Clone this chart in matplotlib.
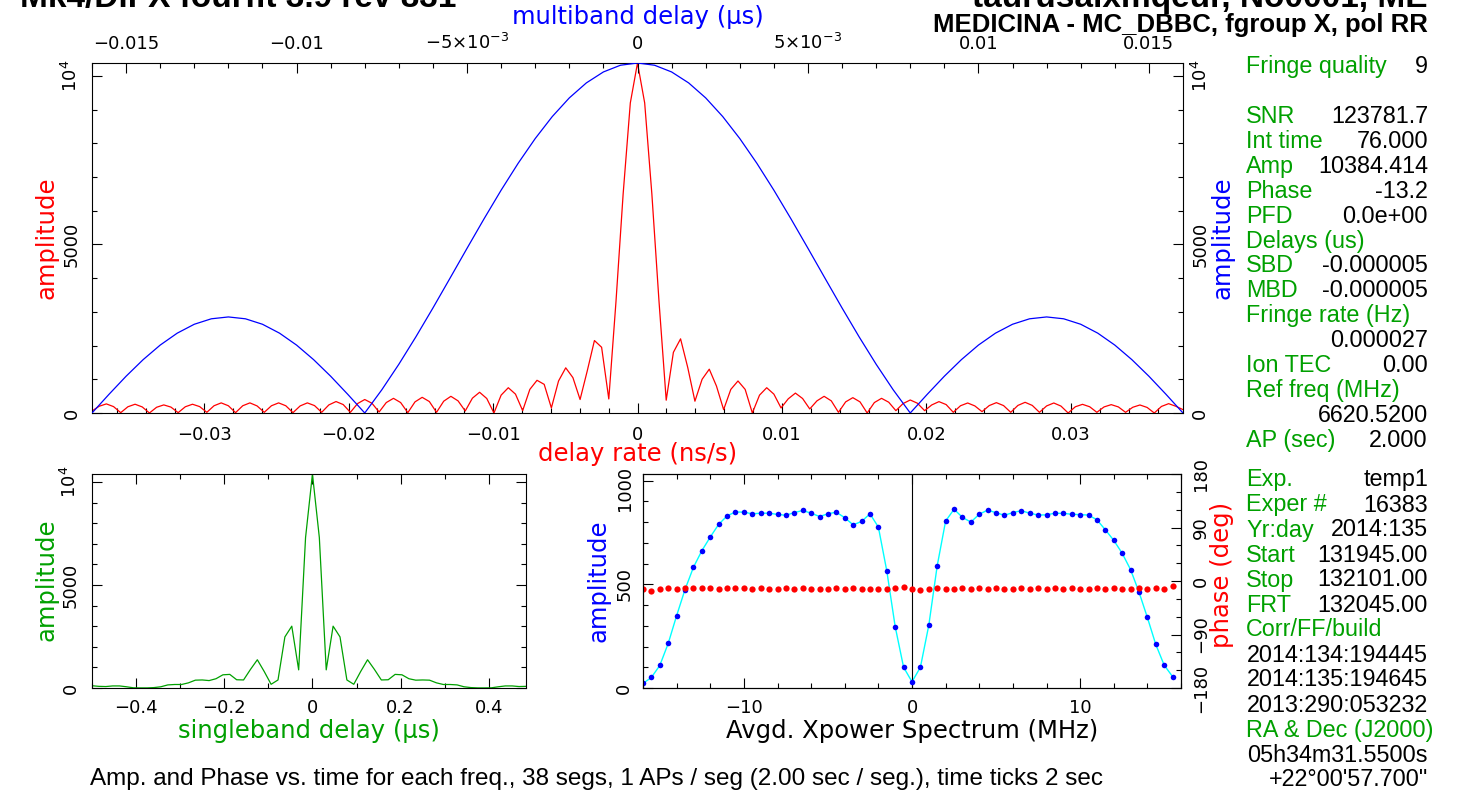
import numpy as np
import matplotlib.pyplot as plt
from matplotlib.ticker import MultipleLocator

W, H = 1462, 791

# ---- data ----
# delay rate spectrum (red), 4 samples per lobe, -19..19 lobes
delay_rate_amp = [
    60, 200, 270, 190,   10, 185, 260, 180,   0, 170, 240, 175,   10, 185, 260, 190,
    20, 215, 300, 215,   10, 215, 300, 210,   20, 215, 300, 215,   10, 210, 300, 220,
    20, 240, 340, 250,   20, 280, 400, 290,   30, 310, 435, 310,   10, 330, 465, 340,
    20, 350, 495, 360,   60, 440, 615, 430,   0, 530, 750, 560,    70, 700, 970, 850,
    150, 950, 1340, 1050,   400, 1250, 2150, 1950,
    416, 3300, 6500, 9200, 10384, 9200, 6500, 3300,
    380, 1800, 2200, 1350,   350, 1000, 1300, 800,
    100, 700, 950, 700,   0, 530, 750, 560,   150, 420, 590, 430,   120, 360, 495, 360,
    20, 330, 455, 330,    0, 310, 435, 320,   70, 280, 386, 290,    70, 240, 337, 250,
    20, 215, 297, 210,    40, 220, 307, 220,   20, 225, 317, 225,   20, 210, 297, 205,
    0, 185, 257, 185,     20, 180, 248, 180,   20, 170, 238, 165,   0, 195, 277, 200,
    100,
]
rate_lim = 0.03776

# multiband delay function (blue), us, step 0.0005
mbd_amp = [
    0, 556, 1091, 1583, 2015, 2369, 2633, 2795, 2850, 2795, 2633, 2369, 2015, 1583, 1091, 556,
    0, 688, 1446, 2260, 3116, 3998, 4886, 5763, 6611, 7410, 8143, 8795, 9349, 9794, 10119, 10318,
    10384,
    10318, 10119, 9794, 9349, 8795, 8143, 7410, 6611, 5763, 4886, 3998, 3116, 2260, 1446, 688, 0,
    556, 1091, 1583, 2015, 2369, 2633, 2795, 2850, 2795, 2633, 2369, 2015, 1583, 1091, 556, 0,
]
mbd_lim = 0.016

# singleband delay function (green), 64 lags of 1/64 us
sbd_amp = [
    110, 80, 70, 100, 100, 60, 10, 5, 5, 20, 60, 150, 170, 170, 250, 380,
    390, 360, 450, 640, 660, 400, 390, 900, 1370, 800, 180, 390, 2480, 3000, 880, 7300,
    10384, 7300, 880, 3000, 2480, 390, 180, 800, 1370, 900, 390, 400, 660, 640, 450, 380,
    390, 380, 250, 170, 170, 150, 60, 20, 5, 5, 10, 60, 100, 100, 70, 80,
]

# averaged cross-power spectrum, LSB then USB, 0.5 MHz channels
xp_freq = np.arange(-16, 16, 0.5)
xp_amp = [
    22, 51, 109, 215, 349, 475, 582, 662, 728, 789, 830, 849, 848, 840, 843, 843,
    837, 833, 846, 856, 843, 827, 840, 848, 821, 787, 803, 840, 776, 565, 296, 100,
    30, 100, 303, 590, 805, 862, 823, 800, 838, 858, 845, 833, 846, 855, 843, 834,
    835, 843, 842, 838, 836, 834, 811, 763, 712, 650, 571, 463, 340, 210, 110, 55,
]
xp_phase = [
    -13.5, -17.0, -13.0, -12.0, -13.0, -12.5, -12.5, -12.5, -12.5, -13.0, -12.5, -12.5,
    -12.5, -13.0, -12.5, -13.0, -13.0, -12.5, -13.0, -12.5, -13.0, -13.0, -13.0, -12.5,
    -13.0, -12.5, -13.0, -13.0, -13.0, -13.0, -12.5, -10.0,
    -13.0, -15.5, -13.0, -12.5, -13.0, -13.0, -12.5, -13.0, -12.5, -13.0, -12.5, -13.0,
    -13.0, -12.5, -13.0, -12.5, -13.0, -12.5, -13.0, -12.5, -13.0, -13.0, -12.5, -13.0,
    -12.5, -13.0, -13.0, -12.5, -13.0, -12.5, -13.0, -8.5,
]

info_labels = ['Fringe quality', '', 'SNR', 'Int time', 'Amp', 'Phase', 'PFD', 'Delays (us)',
               'SBD', 'MBD', 'Fringe rate (Hz)', '', 'Ion TEC', 'Ref freq (MHz)', '', 'AP (sec)']
info_values = ['9', '', '123781.7', '76.000', '10384.414', '-13.2', '0.0e+00', '',
               '-0.000005', '-0.000005', '', '0.000027', '0.00', '', '6620.5200', '2.000']
scan_labels = ['Exp.', 'Exper #', 'Yr:day', 'Start', 'Stop', 'FRT', 'Corr/FF/build',
               '', '', '', 'RA & Dec (J2000)', '', '']
scan_values = ['temp1', '16383', '2014:135', '131945.00', '132101.00', '132045.00', '',
               '2014:134:194445', '2014:135:194645', '2013:290:053232', '',
               '05h34m31.5500s', '+22\u00b000\'57.700"']

GREEN = '#00a000'
LAB = 17.5
plt.rcParams['font.family'] = ['DejaVu Sans']


def px_rect(left, top, right, bottom):
    return [left / W, 1 - bottom / H, (right - left) / W, (bottom - top) / H]


def put(x, y, s, **kw):
    fig.text(x / W, 1 - y / H, s, **kw)


def style(a, xpad, ypad):
    a.tick_params(which='both', direction='in', width=0.8, colors='black', labelsize=13)
    a.tick_params(which='major', length=7)
    a.tick_params(which='minor', length=3.5)
    a.tick_params(axis='x', pad=xpad)
    a.tick_params(axis='y', pad=ypad)
    for s in a.spines.values():
        s.set_linewidth(0.8)


fig = plt.figure(figsize=(W / 100, H / 100), dpi=100)

# ---- main panel: delay rate (bottom/left) + multiband delay (top/right) ----
ax = fig.add_axes(px_rect(92, 63, 1183, 413))
rate = np.linspace(-rate_lim, rate_lim, len(delay_rate_amp))
ax.plot(rate, delay_rate_amp, color='red', lw=0.9)
ax.set_xlim(-rate_lim, rate_lim)
ax.set_ylim(0, 10384.4)
ax.set_xticks([-0.03, -0.02, -0.01, 0, 0.01, 0.02, 0.03],
              ['\u22120.03', '\u22120.02', '\u22120.01', '0', '0.01', '0.02', '0.03'])
ax.xaxis.set_minor_locator(MultipleLocator(0.002))
ax.set_yticks([0, 5000, 10000], ['0', '5000', r'$10^4$'], rotation=90, va='center')
ax.yaxis.set_minor_locator(MultipleLocator(1000))
style(ax, 9, 8)

axt = fig.add_axes(px_rect(92, 63, 1183, 413), frameon=False, label='mbd')
axt.patch.set_visible(False)
mbd = np.linspace(-mbd_lim, mbd_lim, len(mbd_amp))
axt.plot(mbd, mbd_amp, color='blue', lw=0.9)
axt.set_xlim(-mbd_lim, mbd_lim)
axt.set_ylim(0, 10384.4)
axt.xaxis.tick_top()
axt.yaxis.tick_right()
axt.set_xticks([-0.015, -0.01, -0.005, 0, 0.005, 0.01, 0.015],
               ['\u22120.015', '\u22120.01', r'$-5{\times}10^{-3}$', '0', r'$5{\times}10^{-3}$',
                '0.01', '0.015'])
axt.xaxis.set_minor_locator(MultipleLocator(0.001))
axt.set_yticks([0, 5000, 10000], ['0', '5000', r'$10^4$'], rotation=90, va='center')
axt.yaxis.set_minor_locator(MultipleLocator(1000))
style(axt, 7, 6)

put(638, 17, 'multiband delay (\u03bcs)', color='blue', fontsize=LAB, ha='center', va='center')
put(638, 454, 'delay rate (ns/s)', color='red', fontsize=LAB, ha='center', va='center')
put(46, 238, 'amplitude', color='red', fontsize=LAB, rotation=90, ha='center', va='center')
put(1223, 238, 'amplitude', color='blue', fontsize=LAB, rotation=90, ha='center', va='center')

# ---- singleband delay ----
axs = fig.add_axes(px_rect(92, 474, 526, 688))
sbd = np.linspace(-0.5, 0.484375, len(sbd_amp))
axs.plot(sbd, sbd_amp, color=GREEN, lw=0.9)
axs.set_xlim(-0.5, 0.484375)
axs.set_ylim(0, 10384.4)
axs.set_xticks([-0.4, -0.2, 0, 0.2, 0.4], ['\u22120.4', '\u22120.2', '0', '0.2', '0.4'])
axs.xaxis.set_minor_locator(MultipleLocator(0.1))
axs.set_yticks([0, 5000, 10000], ['0', '5000', r'$10^4$'], rotation=90, va='center')
axs.yaxis.set_minor_locator(MultipleLocator(1000))
axs.tick_params(which='both', top=True, right=True)
style(axs, 8, 9)
put(46, 580, 'amplitude', color=GREEN, fontsize=LAB, rotation=90, ha='center', va='center')
put(309, 731, 'singleband delay (\u03bcs)', color=GREEN, fontsize=LAB, ha='center', va='center')

# ---- cross-power spectrum ----
axx = fig.add_axes(px_rect(643, 474, 1181, 688))
axx.plot(xp_freq, xp_amp, color='cyan', lw=1.0, zorder=2)
axx.plot(xp_freq, xp_amp, 'o', color='blue', ms=4, mec='none', zorder=3)
axx.axvline(0, color='black', lw=0.8)
axx.set_xlim(-16, 16)
axx.set_ylim(0, 1032)
axx.set_xticks([-10, 0, 10], ['\u221210', '0', '10'])
axx.xaxis.set_minor_locator(MultipleLocator(2))
# top label is kept inside the frame, as pgplot does
axx.set_yticks([0, 500, 1000], ['0', '500', ''], rotation=90, va='center')
axx.yaxis.set_minor_locator(MultipleLocator(100))
axx.tick_params(which='both', top=True)
style(axx, 8, 7)
put(625, 488, '1000', fontsize=13, rotation=90, ha='center', va='center')

axp = axx.twinx()
axp.plot(xp_freq, xp_phase, 'o', color='red', ms=4.5, mec='none')
axp.set_ylim(-180, 180)
axp.set_yticks([-180, -90, 0, 90, 180], ['\u2212180', '\u221290', '0', '90', '180'],
               rotation=90, va='center')
axp.yaxis.set_minor_locator(MultipleLocator(30))
style(axp, 8, 8)

put(599, 581, 'amplitude', color='blue', fontsize=LAB, rotation=90, ha='center', va='center')
put(1222, 575, 'phase (deg)', color='red', fontsize=LAB, rotation=90, ha='center', va='center')
put(912, 731, 'Avgd. Xpower Spectrum (MHz)', color='black', fontsize=LAB, ha='center', va='center')

# ---- titles and text panel ----
bold = dict(family='Liberation Sans', fontweight='bold', va='baseline')
put(20, 6.5, 'Mk4/DiFX fourfit 3.9 rev 831', fontsize=24, ha='left', **bold)
put(1428, 6.5, 'taurusaixmqeur, No0001, ME', fontsize=24, ha='right', **bold)
put(1428, 31.7, 'MEDICINA - MC_DBBC, fgroup X, pol RR', fontsize=18.5, ha='right', **bold)

txt = dict(family='Liberation Sans', fontsize=16.8, va='baseline')
for i, (lab, val) in enumerate(zip(info_labels, info_values)):
    y = 64.5 + 24.93 * i + 8.5
    if lab:
        put(1246, y, lab, color=GREEN, ha='left', **txt)
    if val:
        put(1428, y, val, color='black', ha='right', **txt)
for i, (lab, val) in enumerate(zip(scan_labels, scan_values)):
    y = 478 + 25.0 * i + 8.5
    if lab:
        put(1246, y, lab, color=GREEN, ha='left', **txt)
    if val:
        put(1428, y, val, color='black', ha='right', **txt)

put(90, 785, 'Amp. and Phase vs. time for each freq., 38 segs, 1 APs / seg (2.00 sec / seg.), '
    'time ticks 2 sec', family='Liberation Sans', fontsize=17.5, ha='left', va='baseline')

fig.savefig('out.png', dpi=100)
